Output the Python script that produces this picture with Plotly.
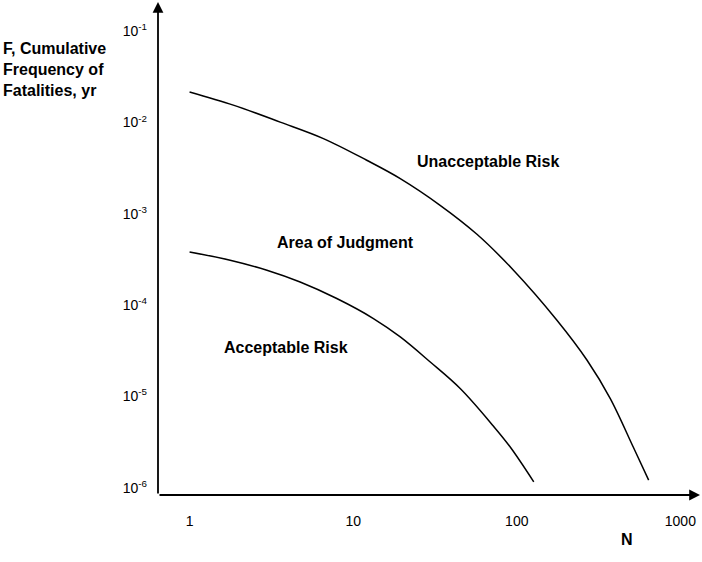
import plotly.graph_objects as go

# F-N curve data
n_upper = [1, 1.85, 3.58, 6.58, 12.1, 19.4, 34.0, 57.1, 95.5, 176, 269, 373, 516, 640]
f_upper = [0.0216, 0.0155, 0.0101, 0.00667, 0.00386, 0.00243, 0.00124, 5.97e-4,
           2.41e-4, 6.83e-5, 2.49e-5, 9.46e-6, 2.77e-6, 1.21e-6]

n_lower = [1, 1.77, 2.97, 4.74, 7.94, 13.3, 19.4, 29.6, 45.1, 72.1, 91.2, 127]
f_lower = [3.82e-4, 3.10e-4, 2.41e-4, 1.79e-4, 1.18e-4, 7.13e-5, 4.48e-5,
           2.38e-5, 1.22e-5, 4.71e-6, 2.79e-6, 1.16e-6]

# tick labels
x_tickvals = [1, 10, 100, 1000]
x_ticktext = ["1", "10", "100", "1000"]
y_tickvals = [1e-1, 1e-2, 1e-3, 1e-4, 1e-5, 1e-6]
y_ticktext = ["10<sup>-1</sup>", "10<sup>-2</sup>", "10<sup>-3</sup>",
              "10<sup>-4</sup>", "10<sup>-5</sup>", "10<sup>-6</sup>"]

FONT = "Liberation Sans, Arial, sans-serif"

fig = go.Figure()

for n, f in [(n_upper, f_upper), (n_lower, f_lower)]:
    fig.add_trace(go.Scatter(
        x=n, y=f, mode="lines",
        line=dict(color="black", width=1.5, shape="spline", smoothing=1.0),
        hoverinfo="skip"
    ))

# axes drawn as arrows
fig.add_annotation(xref="x domain", yref="y domain", axref="x domain", ayref="y domain",
                   x=1, y=0, ax=0, ay=0, showarrow=True, text="",
                   arrowhead=2, arrowsize=1.2, arrowwidth=1.8, arrowcolor="black")
fig.add_annotation(xref="x domain", yref="y domain", axref="x domain", ayref="y domain",
                   x=0, y=1, ax=0, ay=0, showarrow=True, text="",
                   arrowhead=2, arrowsize=1.2, arrowwidth=1.8, arrowcolor="black")

# region labels (positions in log10 units)
labels = [
    ("Unacceptable Risk", 1.826, -2.424),
    ("Area of Judgment", 0.951, -3.312),
    ("Acceptable Risk", 0.590, -4.462),
]
for txt, lx, ly in labels:
    fig.add_annotation(x=lx, y=ly, text="<b>%s</b>" % txt, showarrow=False,
                       font=dict(family=FONT, size=16, color="black"))

# axis titles
fig.add_annotation(xref="paper", yref="paper", x=-0.289, y=0.863,
                   xanchor="left", yanchor="middle", align="left", showarrow=False,
                   text="<b>F, Cumulative<br>Frequency of<br>Fatalities, yr</b>",
                   font=dict(family=FONT, size=16, color="black"))
fig.add_annotation(xref="paper", yref="paper", x=0.880, y=-0.112,
                   showarrow=False, text="<b>N</b>",
                   font=dict(family=FONT, size=16, color="black"))

fig.update_layout(
    width=702, height=562,
    margin=dict(l=158, r=2, t=2, b=67, autoexpand=False),
    plot_bgcolor="white", paper_bgcolor="white",
    showlegend=False,
    font=dict(family=FONT, size=14, color="black"),
)
fig.update_xaxes(type="log", range=[-0.193, 3.12], showgrid=False, zeroline=False,
                 showline=False, tickvals=x_tickvals, ticktext=x_ticktext,
                 ticklabelstandoff=16, tickfont=dict(size=14), automargin=False)
fig.update_yaxes(type="log", range=[-6.08, -0.68], showgrid=False, zeroline=False,
                 showline=False, tickvals=y_tickvals, ticktext=y_ticktext,
                 ticklabelstandoff=10, tickfont=dict(size=14), automargin=False)

# drop the default 8px page margin so the figure fills the window exactly
fig.write_html("out.html", config={"displayModeBar": False},
               post_script="document.body.style.margin = '0';")
